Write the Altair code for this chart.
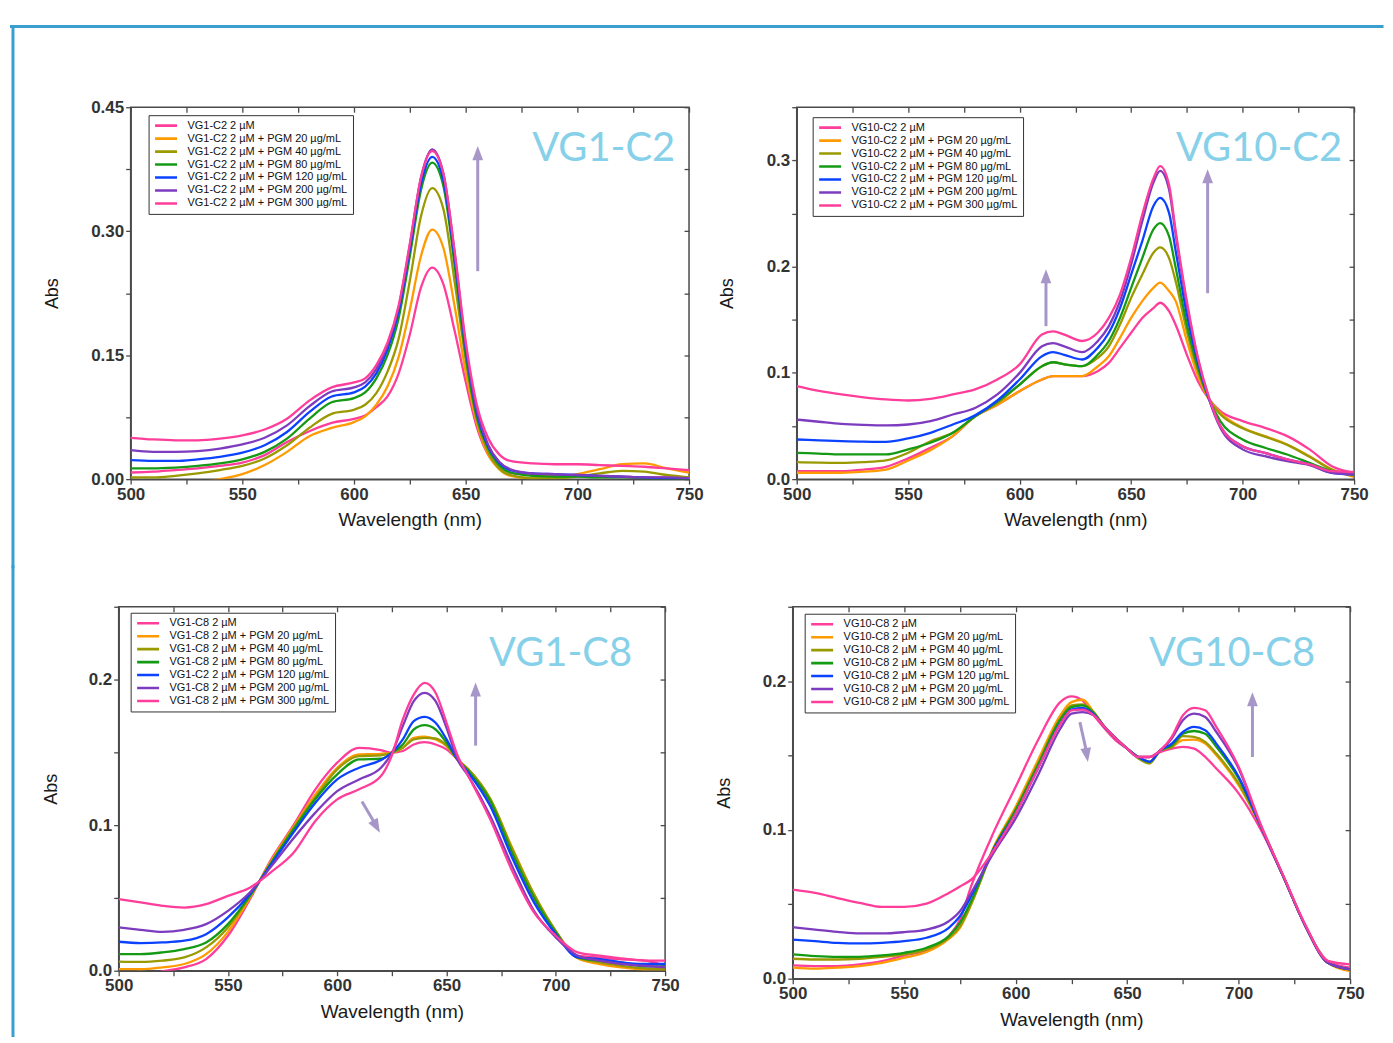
import altair as alt
import pandas as pd

# ---------------- data ----------------
COLORS = ["#ff3d9a", "#ff9a00", "#9a9a00", "#149a14", "#0a42ff", "#7d3bbf", "#ff3d9a"]

LABELS1 = ["VG1-C2 2 µM", "VG1-C2 2 µM + PGM 20 µg/mL", "VG1-C2 2 µM + PGM 40 µg/mL",
           "VG1-C2 2 µM + PGM 80 µg/mL", "VG1-C2 2 µM + PGM 120 µg/mL",
           "VG1-C2 2 µM + PGM 200 µg/mL", "VG1-C2 2 µM + PGM 300 µg/mL"]
LABELS2 = ["VG10-C2 2 µM", "VG10-C2 2 µM + PGM 20 µg/mL", "VG10-C2 2 µM + PGM 40 µg/mL",
           "VG10-C2 2 µM + PGM 80 µg/mL", "VG10-C2 2 µM + PGM 120 µg/mL",
           "VG10-C2 2 µM + PGM 200 µg/mL", "VG10-C2 2 µM + PGM 300 µg/mL"]
LABELS3 = ["VG1-C8 2 µM", "VG1-C8 2 µM + PGM 20 µg/mL", "VG1-C8 2 µM + PGM 40 µg/mL",
           "VG1-C8 2 µM + PGM 80 µg/mL", "VG1-C2 2 µM + PGM 120 µg/mL",
           "VG1-C8 2 µM + PGM 200 µg/mL", "VG1-C8 2 µM + PGM 300 µg/mL"]
LABELS4 = ["VG10-C8 2 µM", "VG10-C8 2 µM + PGM 20 µg/mL", "VG10-C8 2 µM + PGM 40 µg/mL",
           "VG10-C8 2 µM + PGM 80 µg/mL", "VG10-C8 2 µM + PGM 120 µg/mL",
           "VG10-C8 2 µM + PGM 20 µg/mL ", "VG10-C8 2 µM + PGM 300 µg/mL"]

# Panel 1: VG1-C2
WL1 = [500, 510, 520, 530, 540, 550, 560, 570, 580, 590, 600, 605, 610, 615, 620, 625, 630, 635,
       640, 645, 650, 655, 660, 665, 670, 680, 690, 700, 710, 720, 730, 740, 750]
P1_0 = [.008, .009, .011, .013, .016, .020, .029, .045, .058, .068, .073, .077, .087, .100, .128, .175, .232, .256,
        .236, .180, .118, .063, .030, .015, .008, .005, .004, .004, .003, .003, .002, .002, .002]
P1_1 = [-.010, -.010, -.008, -.004, .000, .006, .017, .033, .052, .062, .069, .076, .090, .112, .148, .205, .270, .302,
        .280, .210, .130, .068, .030, .012, .004, .001, .002, .006, .012, .018, .019, .013, .008]
P1_2 = [.002, .002, .004, .007, .011, .016, .025, .041, .062, .079, .084, .090, .104, .130, .170, .240, .318, .352,
        .327, .240, .145, .072, .033, .013, .005, .001, .001, .003, .007, .010, .009, .005, .002]
P1_3 = [.013, .013, .014, .016, .019, .024, .033, .049, .073, .093, .098, .105, .122, .150, .195, .270, .350, .383,
        .355, .260, .150, .075, .038, .017, .008, .004, .003, .003, .002, .002, .001, .000, .000]
P1_4 = [.023, .022, .022, .024, .027, .032, .041, .057, .081, .100, .105, .112, .128, .157, .203, .278, .357, .390,
        .362, .268, .158, .080, .040, .020, .011, .007, .006, .005, .004, .003, .002, .001, .001]
P1_5 = [.035, .033, .033, .034, .037, .042, .050, .065, .088, .106, .111, .117, .133, .162, .208, .283, .365, .399,
        .370, .275, .162, .083, .042, .021, .012, .007, .006, .005, .004, .003, .002, .002, .001]
P1_6 = [.050, .048, .047, .047, .049, .053, .060, .073, .095, .111, .117, .122, .138, .165, .210, .285, .365, .397,
        .370, .277, .167, .090, .050, .030, .022, .019, .018, .018, .017, .016, .015, .013, .011]

# Panel 2: VG10-C2
WL2 = [500, 510, 520, 530, 540, 550, 560, 570, 580, 590, 600, 610, 615, 620, 628, 635, 640, 645, 650, 655,
       660, 663, 667, 670, 675, 680, 685, 690, 700, 710, 720, 730, 740, 750]
P2_0 = [.0075, .0075, .0075, .009, .0116, .0195, .0295, .0405, .059, .070, .0828, .0938, .0969, .097, .097, .1016,
        .1094, .1235, .1377, .1517, .161, .166, .158, .145, .117, .092, .075, .064, .0546, .0483, .0405, .028, .0122, .006]
P2_1 = [.006, .006, .006, .007, .009, .0176, .0273, .0405, .059, .070, .0828, .0938, .0969, .097, .097, .106,
        .1157, .133, .1517, .1675, .180, .185, .177, .1675, .130, .097, .075, .0624, .0483, .0405, .0326, .0216, .009, .002]
P2_2 = [.016, .0155, .0153, .016, .0176, .0248, .0357, .0436, .059, .0715, .089, .1063, .110, .108, .1063, .114,
        .125, .1455, .1706, .1925, .213, .218, .208, .186, .139, .1016, .075, .061, .0478, .040, .0322, .021, .009, .003]
P2_3 = [.0248, .024, .0232, .0232, .0232, .028, .0342, .0436, .059, .073, .089, .1063, .110, .108, .1063, .117,
        .130, .1517, .180, .208, .235, .241, .2286, .1988, .1455, .1047, .075, .0546, .0373, .0295, .0232, .0153, .0075, .0044]
P2_4 = [.0373, .0365, .0357, .0352, .0351, .0383, .0436, .0514, .060, .074, .0938, .1157, .1195, .117, .1126, .1235,
        .1377, .161, .1925, .224, .257, .2646, .2505, .2145, .155, .1094, .075, .0499, .031, .0248, .0185, .0138, .006, .0044]
P2_5 = [.0561, .054, .052, .051, .0505, .0514, .0546, .0608, .067, .0797, .100, .125, .128, .125, .1195, .1298,
        .144, .1675, .202, .2427, .279, .290, .2725, .230, .164, .1126, .075, .0483, .028, .0216, .0169, .0132, .006, .0046]
P2_6 = [.0875, .083, .0797, .077, .075, .074, .0756, .0797, .0844, .0938, .108, .136, .139, .136, .130, .1377,
        .1517, .1737, .208, .249, .283, .2945, .277, .2333, .1675, .114, .0765, .0499, .031, .0248, .0185, .0138, .0075, .0067]

# Panel 3: VG1-C8
WL3 = [500, 510, 520, 530, 540, 550, 560, 570, 580, 590, 600, 610, 620, 625, 630, 635, 640, 645, 650, 655,
       660, 670, 680, 690, 700, 710, 720, 730, 740, 750]
P3_0 = [-.006, -.005, -.0005, .0023, .008, .024, .049, .077, .100, .1246, .1429, .1531, .1515, .1497, .1509, .1554,
        .157, .1554, .152, .1451, .1371, .1154, .0811, .0491, .0267, .0103, .009, .0078, .0071, .0034]
P3_1 = [.0011, .001, .0023, .0046, .0114, .0267, .050, .076, .099, .121, .1394, .1486, .149, .1497, .1531, .160,
        .1607, .1589, .1543, .1451, .1383, .1177, .0846, .0526, .0267, .0085, .0046, .0023, .001, .001]
P3_2 = [.0062, .006, .0069, .0091, .016, .0297, .051, .075, .098, .119, .1383, .1474, .1479, .1497, .1531, .1589,
        .160, .1595, .1547, .1451, .1383, .1182, .0839, .0526, .0274, .0091, .0057, .0034, .0016, .001]
P3_3 = [.0114, .0114, .0126, .0149, .0194, .032, .0514, .0745, .097, .118, .1349, .1451, .1456, .1497, .1554, .1657,
        .1687, .1657, .1566, .1451, .1371, .1166, .0811, .0503, .0263, .0091, .0069, .0057, .003, .003]
P3_4 = [.0199, .019, .0194, .0206, .0251, .0366, .0525, .0735, .095, .1154, .1314, .1394, .1447, .1497, .1589, .1714,
        .1744, .1703, .1589, .1451, .136, .1131, .0777, .0469, .0251, .0091, .008, .0057, .0046, .0046]
P3_5 = [.0297, .0281, .0267, .0281, .032, .0411, .0537, .072, .091, .1086, .1234, .1314, .1394, .1497, .168, .1851,
        .1909, .1851, .1669, .1451, .1337, .1063, .072, .0411, .0229, .0103, .0069, .0046, .0034, .0023]
P3_6 = [.0491, .0469, .0446, .0434, .0457, .0514, .057, .068, .081, .1029, .1177, .1246, .1337, .148, .1726, .1897,
        .1977, .1909, .1703, .148, .1337, .104, .0686, .040, .024, .0126, .0103, .0085, .0069, .0069]

# Panel 4: VG10-C8
WL4 = [500, 510, 520, 530, 540, 550, 560, 570, 575, 580, 590, 600, 610, 620, 625, 630, 635, 640, 645, 650,
       655, 660, 665, 670, 675, 680, 685, 690, 700, 710, 720, 730, 740, 750]
P4_0 = [.0089, .0085, .0085, .0096, .0118, .0156, .0192, .0286, .0397, .062, .098, .129, .1603, .1859, .1897, .187,
        .177, .168, .160, .1547, .149, .149, .1525, .1547, .1558, .1547, .1491, .1413, .1246, .100, .0688, .0353, .0118, .0074]
P4_1 = [.0074, .0067, .0074, .0085, .0107, .0141, .0179, .0268, .0342, .0498, .088, .1156, .1469, .177, .1859, .1875,
        .1792, .169, .1614, .1547, .149, .1458, .1536, .1558, .1603, .1607, .158, .1502, .1301, .1022, .0688, .0353, .0107, .005]
P4_2 = [.0134, .0129, .0129, .0134, .0147, .0163, .0196, .0275, .035, .050, .087, .1138, .1446, .1748, .1837, .1844,
        .179, .169, .1614, .1547, .148, .1446, .1536, .1558, .163, .1625, .1592, .1513, .1313, .1022, .0688, .0353, .0107, .0063]
P4_3 = [.0163, .0152, .0147, .0147, .0156, .0174, .0208, .0286, .0375, .052, .087, .1134, .1435, .1741, .1826, .1837,
        .1786, .169, .1614, .1547, .149, .1458, .1536, .1569, .1647, .1665, .1647, .1558, .1346, .1022, .0688, .0353, .0107, .0063]
P4_4 = [.0263, .0252, .0241, .0237, .0241, .0252, .0275, .0342, .042, .0554, .0866, .111, .1413, .1714, .1808, .1821,
        .1777, .169, .1614, .1547, .149, .1458, .1536, .158, .1658, .1692, .167, .158, .1357, .1022, .0688, .0353, .0107, .0063]
P4_5 = [.0346, .033, .0315, .0304, .0304, .0313, .033, .0386, .0453, .0576, .0844, .1078, .1368, .168, .1781, .1792,
        .177, .169, .1614, .1547, .149, .149, .1536, .1614, .1737, .1781, .1759, .1658, .1413, .1022, .0688, .0353, .0107, .0063]
P4_6 = [.0598, .0576, .0542, .0509, .0482, .0482, .0504, .0576, .062, .0665, .086, .111, .1413, .171, .1804, .1808,
        .177, .169, .1614, .1547, .149, .149, .1536, .1625, .177, .1821, .1804, .1692, .1424, .1035, .0695, .036, .012, .0096]

X_TICKS = [500, 525, 550, 575, 600, 625, 650, 675, 700, 725, 750]
Y1_TICKS = [0, 0.075, 0.15, 0.225, 0.3, 0.375, 0.45]
Y1_LABELS = [0, 0.15, 0.3, 0.45]
Y2_TICKS = [0, 0.05, 0.1, 0.15, 0.2, 0.25, 0.3, 0.35]
Y2_LABELS = [0, 0.1, 0.2, 0.3]
Y3_TICKS = [0, 0.05, 0.1, 0.15, 0.2, 0.25]
Y3_LABELS = [0, 0.1, 0.2]

# annotation arrows: tail (wl, abs), head base (wl2, abs2), tip (wlt, abst), head angle
ARROWS1 = {"wl": [655.4], "abs": [0.2516], "wl2": [655.4], "abs2": [0.389], "wlt": [655.4], "abst": [0.403], "ang": [0]}
ARROWS2 = {"wl": [611.8, 684.3], "abs": [0.144, 0.175], "wl2": [611.8, 684.3], "abs2": [0.187, 0.281],
           "wlt": [611.8, 684.3], "abst": [0.1976, 0.2916], "ang": [0, 0]}
ARROWS3 = {"wl": [663.3, 611.3], "abs": [0.1546, 0.1162], "wl2": [663.3, 617.1], "abs2": [0.1895, 0.1014],
           "wlt": [663.3, 619.5], "abst": [0.198, 0.0948], "ang": [0, 151]}
ARROWS4 = {"wl": [706.2, 628.8], "abs": [0.149, 0.1725], "wl2": [706.2, 631.7], "abs2": [0.1846, 0.153],
           "wlt": [706.2, 632.4], "abst": [0.1926, 0.1456], "ang": [0, 171]}

TITLE_COLOR = "#86d1e9"
ARROW_COLOR = "#a796c8"
FRAME_COLOR = "#3a9fcf"
AXIS_COLOR = "#4a4a4a"
HEAD = "M0,0L0.38,1L-0.38,1Z"


def panel(wl, series, labels, ymax, yticks, ylabels, yfmt, w, h, x0, lx, ly, title, tx, ty,
          arrows, ytpad, frame_rules=()):
    rows = []
    for lab, vals in zip(labels, series):
        for x, v in zip(wl, vals):
            rows.append({"wl": x, "abs": v, "series": lab})
    df = pd.DataFrame(rows)
    xs = alt.Scale(domain=[500, 750], nice=False, zero=False, range=[x0, x0 + w])
    ys = alt.Scale(domain=[0, ymax], nice=False, zero=False)
    common = dict(labelFont="Liberation Sans", labelFontSize=17, labelFontWeight="bold",
                  labelColor="#333333", tickColor=AXIS_COLOR, domainColor=AXIS_COLOR,
                  tickSize=5, tickWidth=1.3, domainWidth=1.5, grid=False, labelPadding=2,
                  titleFont="Liberation Sans", titleFontWeight="normal", titleColor="#1a1a1a")
    xaxis = alt.Axis(values=X_TICKS, format="d", labelFlush=False, labelOverlap=False,
                     labelExpr="datum.value % 50 === 0 ? datum.label : ''",
                     title="Wavelength (nm)", titleFontSize=19, titlePadding=9, **common)
    yaxis = alt.Axis(values=yticks, format=yfmt, labelOverlap=False, labelFlush=False,
                     labelExpr=f"indexof({ylabels}, datum.value) >= 0 ? datum.label : ''",
                     title="Abs", titleFontSize=18, titlePadding=ytpad, offset=-x0, **common)
    legend = alt.Legend(title=None, orient="none", legendX=x0 + lx, legendY=ly, symbolType="stroke",
                        symbolSize=484, symbolStrokeWidth=2.6, clipHeight=11, rowPadding=1,
                        labelFont="Liberation Sans", labelFontSize=11, labelColor="#111111",
                        labelOffset=9, padding=5, strokeColor="#333333", fillColor="white",
                        labelLimit=400)
    lines = alt.Chart(df).mark_line(strokeWidth=2.3, clip=True, interpolate="monotone").encode(
        x=alt.X("wl:Q", scale=xs, axis=xaxis),
        y=alt.Y("abs:Q", scale=ys, axis=yaxis),
        color=alt.Color("series:N", scale=alt.Scale(domain=labels, range=COLORS), legend=legend),
    )
    bdf = pd.DataFrame({"wl": [500], "wl2": [750], "abs": [0], "abs2": [ymax]})
    box = alt.Chart(bdf).mark_rect(filled=False, stroke=AXIS_COLOR, strokeWidth=1.5).encode(
        x="wl:Q", x2="wl2:Q", y="abs:Q", y2="abs2:Q")
    tdf = pd.DataFrame({"wl": [tx], "abs": [ty], "t": [title]})
    ttl = alt.Chart(tdf).mark_text(align="right", baseline="alphabetic", font="Lato",
                                   fontSize=40, color=TITLE_COLOR).encode(
        x="wl:Q", y="abs:Q", text="t:N")
    adf = pd.DataFrame(arrows)
    shaft = alt.Chart(adf).mark_rule(color=ARROW_COLOR, strokeWidth=3).encode(
        x="wl:Q", y="abs:Q", x2="wl2:Q", y2="abs2:Q")
    head = alt.Chart(adf).mark_point(shape=HEAD, filled=True, size=800, color=ARROW_COLOR,
                                     opacity=1, strokeWidth=0).encode(
        x="wlt:Q", y="abst:Q", angle=alt.Angle("ang:Q", scale=None))
    layers = [box, lines, shaft, head, ttl]
    fdf = pd.DataFrame({"a": [0]})
    for (fx, fx2, fy, fy2) in frame_rules:
        enc = dict(x=alt.value(fx), y=alt.value(fy))
        if fx2 is not None:
            enc["x2"] = alt.value(fx2)
        if fy2 is not None:
            enc["y2"] = alt.value(fy2)
        layers.append(alt.Chart(fdf).mark_rule(color=FRAME_COLOR, strokeWidth=3,
                                               strokeCap="square").encode(**enc))
    main = alt.layer(*layers)
    mirror = alt.Chart(df).mark_point(opacity=0).encode(
        x=alt.X("wl:Q", scale=xs, axis=alt.Axis(orient="top", values=X_TICKS, labels=False, title=None,
                                               domain=False, tickSize=5, offset=-5, grid=False,
                                               tickColor=AXIS_COLOR, tickWidth=1.3)),
        y=alt.Y("abs:Q", scale=ys, axis=alt.Axis(orient="right", values=yticks, labels=False, title=None,
                                                domain=False, tickSize=5, offset=-5, grid=False,
                                                tickColor=AXIS_COLOR, tickWidth=1.3)),
    )
    return alt.layer(main, mirror).resolve_scale(x="independent", y="independent").properties(
        width=x0 + w, height=h)


# blue page frame, in pixels relative to each panel's group origin
FRAME_TOP = [(-107.5, 1267, -81, None), (-106, None, -81, 461)]
FRAME_BOTTOM = [(-106, None, -40, 430)]

p1 = panel(WL1, [P1_0, P1_1, P1_2, P1_3, P1_4, P1_5, P1_6], LABELS1, 0.45, Y1_TICKS, Y1_LABELS, ".2f",
           560, 373, 12, 18, 8, "VG1-C2", 743.8, 0.385, ARROWS1, 29, FRAME_TOP)
p2 = panel(WL2, [P2_0, P2_1, P2_2, P2_3, P2_4, P2_5, P2_6], LABELS2, 0.35, Y2_TICKS, Y2_LABELS, ".1f",
           559, 373, 0, 16, 10, "VG10-C2", 744.6, 0.299, ARROWS2, 30)
p3 = panel(WL3, [P3_0, P3_1, P3_2, P3_3, P3_4, P3_5, P3_6], LABELS3, 0.25, Y3_TICKS, Y3_LABELS, ".1f",
           548, 365, 0, 12, 6, "VG1-C8", 734.9, 0.2096, ARROWS3, 28, FRAME_BOTTOM)
p4 = panel(WL4, [P4_0, P4_1, P4_2, P4_3, P4_4, P4_5, P4_6], LABELS4, 0.25, Y3_TICKS, Y3_LABELS, ".1f",
           559, 373, 0, 12, 7, "VG10-C8", 734.3, 0.21, ARROWS4, 29)

RES = dict(x="independent", y="independent", color="independent")
row1 = alt.hconcat(p1, p2, spacing=108, bounds="flush").resolve_scale(**RES).resolve_legend(color="independent")
row2 = alt.hconcat(p3, p4, spacing=128, bounds="flush").resolve_scale(**RES).resolve_legend(color="independent")
chart = alt.vconcat(row1, row2, spacing=-6).resolve_scale(**RES).resolve_legend(
    color="independent").properties(
    padding={"left": 0, "top": 14, "right": 0, "bottom": 0}, background="white"
).configure_view(stroke="transparent")

chart.save("out.html", embed_options={"renderer": "svg", "actions": False})
